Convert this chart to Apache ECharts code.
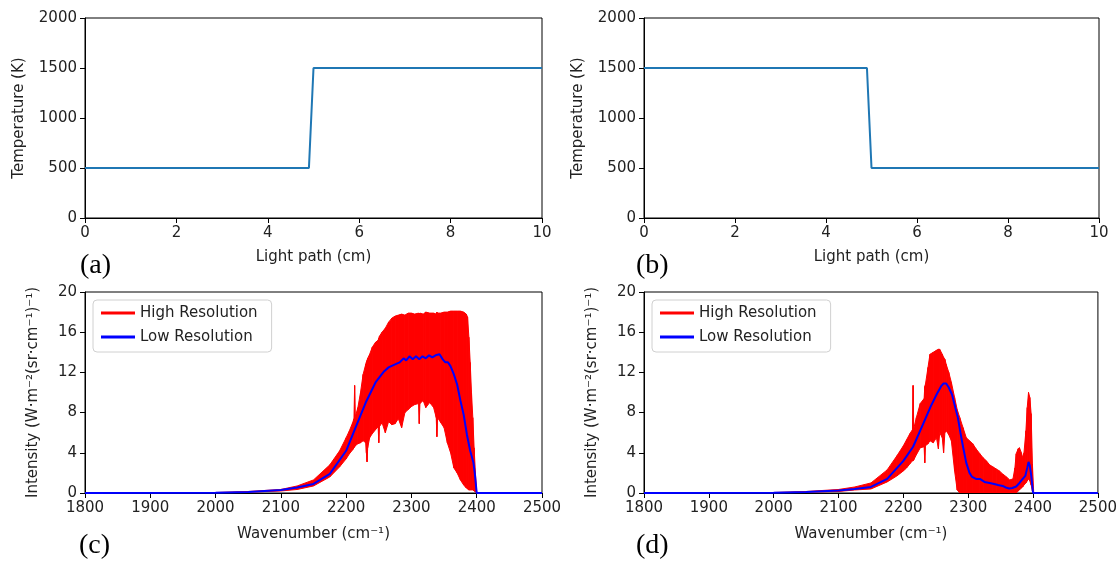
<!DOCTYPE html>
<html>
<head>
<meta charset="utf-8">
<script src="https://cdn.jsdelivr.net/npm/echarts@6/dist/echarts.min.js"></script>
<style>
html, body { margin: 0; padding: 0; background: #fff; }
#chart { width: 1120px; height: 561px; }
</style>
</head>
<body>
<div id="chart"></div>
<script>
// temperature profiles along the light path
var pathA = [0, 4.9, 5.0, 10];
var tempA = [500, 500, 1500, 1500];
var pathB = [0, 4.9, 5.0, 10];
var tempB = [1500, 1500, 500, 500];

// spectrum (c): high resolution band (lower / upper edge) and low resolution line
var waveC = [1800, 2000, 2050, 2100, 2125, 2150, 2175, 2190, 2200, 2205, 2210, 2212, 2213, 2214, 2218, 2222, 2226, 2230, 2231, 2232, 2233, 2236, 2240, 2245, 2249, 2250, 2251, 2255, 2260, 2265, 2270, 2275, 2280, 2285, 2290, 2295, 2300, 2305, 2311, 2312, 2313, 2318, 2322, 2328, 2334, 2338, 2339, 2340, 2345, 2350, 2355, 2360, 2365, 2370, 2375, 2380, 2384, 2386, 2388, 2390, 2392, 2394, 2396, 2398, 2400, 2500];
var highUpC = [0, 0.05, 0.15, 0.35, 0.7, 1.3, 2.8, 4.2, 5.5, 6.2, 7.0, 7.4, 10.7, 7.6, 8.5, 10.0, 11.8, 12.8, 13.0, 13.2, 13.4, 13.8, 14.5, 15.0, 15.2, 15.4, 15.6, 16.0, 16.4, 17.0, 17.4, 17.6, 17.7, 17.8, 17.7, 17.9, 17.9, 17.8, 17.9, 17.8, 17.9, 17.8, 18.0, 17.9, 17.9, 17.8, 18.0, 17.9, 17.9, 18.0, 18.0, 18.1, 18.1, 18.1, 18.1, 18.0, 17.8, 17.5, 15.5, 13.0, 10.0, 7.5, 4.5, 2.0, 0, 0];
var highLowC = [0, 0.02, 0.08, 0.2, 0.35, 0.7, 1.6, 2.6, 3.4, 3.9, 4.3, 4.5, 4.6, 4.7, 4.9, 5.0, 5.2, 5.0, 4.0, 3.1, 4.5, 5.5, 5.9, 6.3, 6.6, 5.0, 6.6, 7.0, 6.0, 7.1, 6.8, 6.9, 7.4, 6.5, 8.0, 8.3, 8.6, 8.8, 8.9, 6.9, 8.9, 9.2, 8.5, 9.0, 8.5, 7.5, 5.6, 7.5, 7.0, 6.5, 5.0, 4.0, 2.5, 2.0, 1.3, 0.8, 0.5, 0.4, 0.3, 0.3, 0.3, 0.3, 0.2, 0.1, 0, 0];
var lowWaveC = [1800, 2000, 2050, 2100, 2125, 2150, 2175, 2200, 2215, 2230, 2245, 2258, 2265, 2275, 2282, 2288, 2292, 2297, 2302, 2307, 2312, 2317, 2322, 2327, 2332, 2337, 2343, 2348, 2352, 2356, 2360, 2365, 2370, 2375, 2380, 2385, 2390, 2395, 2397, 2400, 2500];
var lowResC = [0, 0.03, 0.1, 0.3, 0.55, 0.9, 1.9, 4.2, 6.6, 9.0, 11.0, 12.1, 12.5, 12.8, 13.0, 13.4, 13.2, 13.6, 13.3, 13.6, 13.3, 13.6, 13.4, 13.7, 13.5, 13.7, 13.8, 13.3, 13.0, 13.0, 12.6, 11.8, 10.8, 9.2, 7.8, 5.8, 4.2, 3.0, 2.0, 0, 0];

// spectrum (d)
var waveD = [1800, 2000, 2050, 2100, 2125, 2150, 2175, 2190, 2200, 2205, 2210, 2214, 2215, 2216, 2220, 2226, 2232, 2233, 2234, 2238, 2241, 2246, 2251, 2254, 2256, 2260, 2262, 2264, 2266, 2270, 2274, 2279, 2283, 2287, 2292, 2297, 2302, 2307, 2312, 2318, 2323, 2328, 2333, 2338, 2343, 2348, 2353, 2359, 2364, 2369, 2372, 2374, 2377, 2379, 2382, 2384, 2386, 2389, 2391, 2393, 2395, 2397, 2399, 2401, 2500];
var highUpD = [0, 0.05, 0.15, 0.35, 0.6, 1.0, 2.3, 3.7, 4.7, 5.3, 5.9, 6.3, 10.7, 6.4, 7.5, 8.9, 9.4, 10.6, 10.8, 12.5, 13.8, 14.0, 14.2, 14.3, 14.3, 13.8, 13.5, 13.3, 12.8, 12.0, 11.0, 9.5, 8.3, 7.5, 6.5, 5.5, 5.2, 4.9, 4.4, 3.9, 3.5, 3.2, 2.8, 2.6, 2.4, 2.2, 1.9, 1.6, 1.3, 1.4, 2.5, 3.9, 4.4, 4.5, 4.0, 3.5, 4.0, 6.2, 8.5, 10.0, 9.5, 7.9, 2.9, 0, 0];
var highLowD = [0, 0.02, 0.08, 0.15, 0.3, 0.4, 1.1, 1.7, 2.2, 2.5, 2.9, 3.2, 3.2, 3.3, 3.8, 4.5, 4.6, 3.0, 4.7, 4.9, 5.2, 5.0, 5.5, 4.4, 6.0, 5.5, 4.0, 6.0, 6.2, 5.8, 5.2, 2.2, 0.3, 0, 0, 0, 0, 0, 0, 0, 0, 0, 0, 0, 0, 0, 0, 0, 0, 0, 0, 0, 0.2, 0.3, 0.5, 0.6, 0.8, 1.0, 1.2, 1.4, 1.2, 0.8, 0.2, 0, 0];
var lowWaveD = [1800, 2000, 2050, 2100, 2125, 2150, 2175, 2200, 2215, 2230, 2242, 2252, 2258, 2262, 2266, 2270, 2275, 2280, 2284, 2288, 2292, 2297, 2302, 2306, 2312, 2318, 2325, 2333, 2340, 2346, 2349, 2353, 2358, 2363, 2368, 2374, 2379, 2384, 2388, 2391, 2393, 2395, 2397, 2399, 2400, 2500];
var lowResD = [0, 0.03, 0.1, 0.25, 0.4, 0.6, 1.4, 3.2, 4.6, 6.8, 8.6, 9.9, 10.6, 10.9, 10.9, 10.5, 9.8, 8.5, 7.5, 6.0, 4.6, 3.0, 2.0, 1.6, 1.4, 1.4, 1.1, 1.0, 0.9, 0.8, 0.9, 0.7, 0.55, 0.45, 0.5, 0.65, 1.0, 1.4, 1.7, 2.5, 3.1, 2.7, 1.8, 0.6, 0, 0];

// tick settings
var pathTicks = { min: 0, max: 10, interval: 2 };
var tempTicks = { min: 0, max: 2000, interval: 500 };
var waveTicks = { min: 1800, max: 2500, interval: 100 };
var intenTicks = { min: 0, max: 20, interval: 4 };

function pairs(xs, ys) {
    var out = [];
    for (var i = 0; i < xs.length; i++) out.push([xs[i], ys[i]]);
    return out;
}
// one row per segment of the band: [x0, lo0, hi0, x1, lo1, hi1]
function segments(xs, lo, hi) {
    var out = [];
    for (var i = 0; i < xs.length - 1; i++) {
        out.push([xs[i], lo[i], hi[i], xs[i + 1], lo[i + 1], hi[i + 1]]);
    }
    return out;
}

var font = "DejaVu Sans";
var txt = "#222";
var plain = function (v) { return String(v); };

function xAx(idx, t, name, gap) {
    return {
        type: "value", gridIndex: idx, min: t.min, max: t.max, interval: t.interval,
        name: name, nameLocation: "middle", nameGap: gap,
        nameTextStyle: { fontFamily: font, fontSize: 15, color: txt },
        axisLine: { show: true, onZero: false, lineStyle: { color: "#000", width: 1 } },
        axisTick: { show: true, inside: false, length: 5, lineStyle: { color: "#000" } },
        axisLabel: { fontFamily: font, fontSize: 15, color: txt, margin: 8, formatter: plain },
        splitLine: { show: false },
    };
}
function yAx(idx, t, name, gap) {
    return {
        type: "value", gridIndex: idx, min: t.min, max: t.max, interval: t.interval,
        name: name, nameLocation: "middle", nameGap: gap, nameRotate: 90,
        nameTextStyle: { fontFamily: font, fontSize: 15, color: txt },
        axisLine: { show: true, onZero: false, lineStyle: { color: "#000", width: 1 } },
        axisTick: { show: true, inside: false, length: 5, lineStyle: { color: "#000" } },
        axisLabel: { fontFamily: font, fontSize: 15, color: txt, margin: 8, formatter: plain },
        splitLine: { show: false },
    };
}
function grid(l, t, w, h) {
    return { left: l, top: t, width: w, height: h, show: true, borderColor: "#000", borderWidth: 1, backgroundColor: "transparent" };
}
function legend(l) {
    return {
        left: l, top: 300, orient: "vertical",
        data: ["High Resolution", "Low Resolution"],
        icon: "rect", itemWidth: 34, itemHeight: 3, itemGap: 8,
        padding: [5, 14, 7, 8],
        backgroundColor: "#fff", borderColor: "#d0d0d0", borderWidth: 1, borderRadius: 4,
        textStyle: { fontFamily: font, fontSize: 15, color: txt, lineHeight: 16 },
    };
}
// red high resolution band, filled between its lower and upper edge
function bandSeries(idx, xs, lo, hi) {
    return {
        name: "High Resolution", type: "custom", xAxisIndex: idx, yAxisIndex: idx,
        data: segments(xs, lo, hi),
        encode: { x: [0, 3], y: [1, 2, 4, 5] },
        itemStyle: { color: "#ff0000" },
        clip: true,
        renderItem: function (params, api) {
            var a = api.coord([api.value(0), api.value(2)]);
            var b = api.coord([api.value(3), api.value(5)]);
            var c = api.coord([api.value(3), api.value(4)]);
            var d = api.coord([api.value(0), api.value(1)]);
            return {
                type: "polygon",
                shape: { points: [a, b, c, d] },
                style: { fill: "#ff0000", stroke: "#ff0000", lineWidth: 1 },
            };
        },
    };
}
function lowSeries(idx, xs, ys) {
    return {
        name: "Low Resolution", type: "line", xAxisIndex: idx, yAxisIndex: idx,
        data: pairs(xs, ys), symbol: "none", z: 5,
        itemStyle: { color: "#0000ff" },
        lineStyle: { color: "#0000ff", width: 2 },
    };
}
function tempSeries(idx, xs, ys) {
    return {
        type: "line", xAxisIndex: idx, yAxisIndex: idx, data: pairs(xs, ys), symbol: "none",
        lineStyle: { color: "#1f77b4", width: 2 },
    };
}
function panelTag(s, x, y) {
    return {
        type: "text", left: x, top: y,
        style: { text: s, fontFamily: "Liberation Serif", fontSize: 28, fill: "#000" },
    };
}

var intenName = "Intensity (W\u00b7m\u207b\u00b2(sr\u00b7cm\u207b\u00b9)\u207b\u00b9)";
var waveName = "Wavenumber (cm\u207b\u00b9)";

var myChart = echarts.init(document.getElementById("chart"), null, { renderer: "canvas" });
var option = {
    animation: false,
    backgroundColor: "#fff",
    grid: [
        grid(85, 18, 457, 200),
        grid(644, 18, 455, 200),
        grid(85, 292, 457, 201),
        grid(644, 292, 455, 201),
    ],
    xAxis: [
        xAx(0, pathTicks, "Light path (cm)", 32),
        xAx(1, pathTicks, "Light path (cm)", 32),
        xAx(2, waveTicks, waveName, 34),
        xAx(3, waveTicks, waveName, 34),
    ],
    yAxis: [
        yAx(0, tempTicks, "Temperature (K)", 58),
        yAx(1, tempTicks, "Temperature (K)", 58),
        yAx(2, intenTicks, intenName, 44),
        yAx(3, intenTicks, intenName, 44),
    ],
    legend: [legend(93), legend(652)],
    series: [
        tempSeries(0, pathA, tempA),
        tempSeries(1, pathB, tempB),
        bandSeries(2, waveC, highLowC, highUpC),
        lowSeries(2, lowWaveC, lowResC),
        bandSeries(3, waveD, highLowD, highUpD),
        lowSeries(3, lowWaveD, lowResD),
    ],
    graphic: [
        panelTag("(a)", 80, 252),
        panelTag("(b)", 636, 252),
        panelTag("(c)", 79, 532),
        panelTag("(d)", 636, 532),
    ],
};
myChart.setOption(option);
window.addEventListener("resize", function () {
    myChart.resize();
});
</script>
</body>
</html>
